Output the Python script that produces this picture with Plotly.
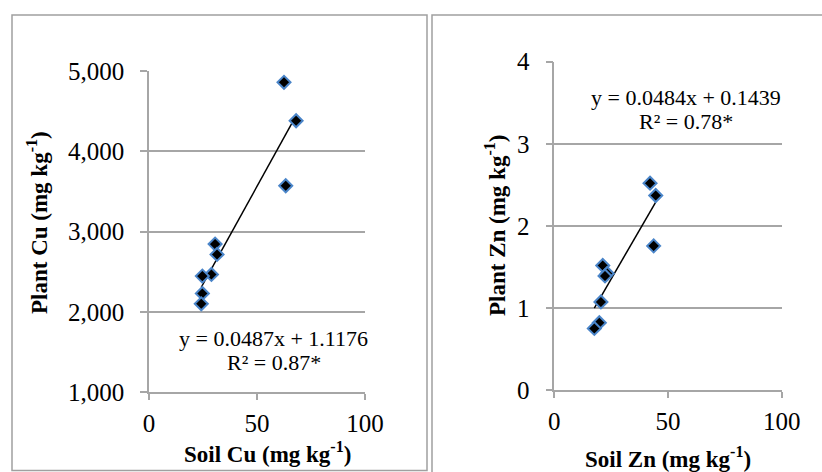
import numpy as np
import plotly.graph_objects as go

# ---- data ----
soil_cu = [62.5, 68.1, 63.3, 30.6, 31.5, 28.9, 24.7, 24.7, 24.2]
plant_cu = [4859, 4380, 3570, 2843, 2714, 2465, 2444, 2228, 2099]
soil_zn = [42.1, 44.6, 43.7, 21.3, 23.3, 22.3, 20.5, 19.8, 17.6]
plant_zn = [2.52, 2.37, 1.756, 1.517, 1.42, 1.39, 1.073, 0.82, 0.75]

eq_cu = ["y = 0.0487x + 1.1176", "R² = 0.87*"]
eq_zn = ["y = 0.0484x + 0.1439", "R² = 0.78*"]

W, H = 822, 472
def px(x):
    return x / W
def py(y):
    return 1 - y / H

FONT = "Liberation Serif"
GRID = "#a6a6a6"
BLUE = "#4a85c9"

fig = go.Figure()

def add_panel(xs, ys, xa, ya):
    m, b = np.polyfit(xs, ys, 1)
    tx = [min(xs), max(xs)]
    fig.add_trace(go.Scatter(
        x=tx, y=[m * t + b for t in tx], mode="lines", xaxis=xa, yaxis=ya,
        line=dict(color="black", width=1.5), showlegend=False))
    fig.add_trace(go.Scatter(
        x=xs, y=ys, mode="markers", xaxis=xa, yaxis=ya,
        marker=dict(symbol="diamond", size=10, color="black",
                    line=dict(color=BLUE, width=2)),
        showlegend=False))

add_panel(soil_cu, plant_cu, "x", "y")
add_panel(soil_zn, plant_zn, "x2", "y2")

xcommon = dict(range=[0, 100], tick0=0, dtick=50, showgrid=False,
               showline=True, linecolor=GRID, linewidth=1.5,
               ticks="outside", ticklen=6, tickcolor=GRID, tickwidth=1.5,
               tickfont=dict(family=FONT, size=25, color="black"),
               ticklabelstandoff=2, zeroline=False, automargin=False,
               fixedrange=True)
ycommon = dict(showgrid=True, gridcolor=GRID, gridwidth=1.5,
               showline=True, linecolor=GRID, linewidth=1.5,
               ticks="outside", ticklen=7, tickcolor=GRID, tickwidth=1.5,
               tickfont=dict(family=FONT, size=25, color="black"),
               ticklabelstandoff=11, zeroline=False, automargin=False,
               fixedrange=True)

fig.update_layout(
    width=W, height=H, autosize=False,
    margin=dict(l=0, r=0, t=0, b=0),
    paper_bgcolor="white", plot_bgcolor="white",
    separators=".,",
    xaxis=dict(domain=[px(149), px(365)], anchor="y", **xcommon),
    yaxis=dict(domain=[py(392), py(71)], anchor="x", range=[1000, 5000],
               dtick=1000, tickformat=",", **ycommon),
    xaxis2=dict(domain=[px(554.3), px(781.7)], anchor="y2", **xcommon),
    yaxis2=dict(domain=[py(390), py(61.7)], anchor="x2", range=[0, 4],
                dtick=1, **ycommon),
)

# panel borders
BORDER = "#a0a0a0"
shapes = [
    dict(type="rect", xref="paper", yref="paper",
         x0=px(12), x1=px(427), y0=py(470.5), y1=py(15),
         line=dict(color=BORDER, width=1.5), fillcolor="rgba(0,0,0,0)"),
    dict(type="rect", xref="paper", yref="paper",
         x0=px(432), x1=px(830), y0=py(480), y1=py(15),
         line=dict(color=BORDER, width=1.5), fillcolor="rgba(0,0,0,0)"),
]
fig.update_layout(shapes=shapes)

ann = []
title_font = dict(family=FONT, size=23, color="black")
ann.append(dict(text="<b>Soil Cu (mg kg<sup>-1</sup>)</b>", x=px(267.5), y=py(452),
                xref="paper", yref="paper", showarrow=False,
                xanchor="center", yanchor="middle", font=title_font))
ann.append(dict(text="<b>Soil Zn (mg kg<sup>-1</sup>)</b>", x=px(667.5), y=py(457),
                xref="paper", yref="paper", showarrow=False,
                xanchor="center", yanchor="middle", font=title_font))
ann.append(dict(text="<b>Plant Cu (mg kg<sup>-1</sup>)</b>", x=px(38), y=py(223),
                xref="paper", yref="paper", showarrow=False, textangle=-90,
                xanchor="center", yanchor="middle", font=title_font))
ann.append(dict(text="<b>Plant Zn (mg kg<sup>-1</sup>)</b>", x=px(495), y=py(226),
                xref="paper", yref="paper", showarrow=False, textangle=-90,
                xanchor="center", yanchor="middle", font=title_font))

eq_font = dict(family=FONT, size=22, color="black")
for (txt, cx, cy) in [(eq_cu[0], 273.7, 338), (eq_cu[1], 273.5, 362.7),
                      (eq_zn[0], 685.8, 97.3), (eq_zn[1], 686.3, 121.7)]:
    ann.append(dict(text=txt, x=px(cx), y=py(cy), xref="paper", yref="paper",
                    showarrow=False, xanchor="center", yanchor="middle",
                    font=eq_font))
fig.update_layout(annotations=ann)

fig.write_html("out.html", config={"displayModeBar": False},
               post_script="document.body.style.margin='0px';document.body.style.overflow='hidden';")
